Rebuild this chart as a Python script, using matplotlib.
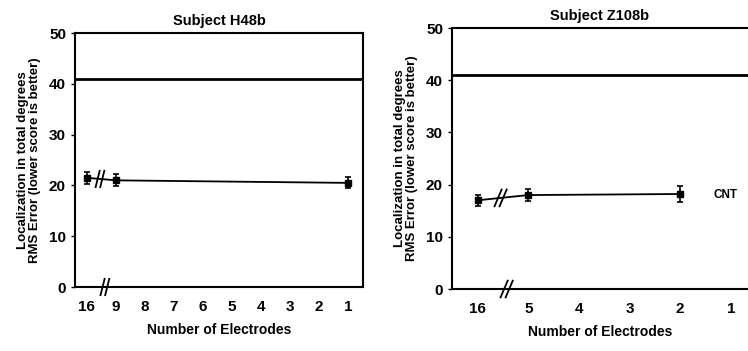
import numpy as np
import matplotlib
matplotlib.use('Agg')
import matplotlib.pyplot as plt

plt.rcParams['font.family'] = ['Liberation Sans', 'DejaVu Sans']
plt.rcParams['font.weight'] = 'bold'

# Subject H48b
h48_labels = ['16', '9', '8', '7', '6', '5', '4', '3', '2', '1']
h48_points = ['16', '9', '1']
h48_values = [21.5, 21.0, 20.5]
h48_errors = [1.2, 1.2, 1.1]

# Subject Z108b
z108_labels = ['16', '5', '4', '3', '2', '1']
z108_points = ['16', '5', '2']
z108_values = [17.0, 18.0, 18.2]
z108_errors = [1.1, 1.2, 1.5]

chance_level = 41


def draw_break(ax, xpos, ypos, dx=0.07, dy=1.6, gap=0.13):
    for off in (-gap / 2, gap / 2):
        ax.plot([xpos + off - dx, xpos + off + dx], [ypos - dy, ypos + dy],
                color='black', lw=1.3, clip_on=False, zorder=5)


def panel(ax, labels, points, values, errors, title, xlim, break_x, axis_break_x, gap):
    pos = [labels.index(p) for p in points]
    ax.plot(pos, values, color='black', lw=1.3)
    ax.errorbar(pos, values, yerr=errors, fmt='s', color='black', ms=5,
                elinewidth=1.2, capsize=2.5, capthick=1.2)
    ax.axhline(chance_level, color='black', lw=2)
    ax.set_xlim(*xlim)
    ax.set_ylim(0, 50)
    ax.set_xticks(range(len(labels)))
    ax.set_xticklabels(labels)
    ax.set_yticks([0, 10, 20, 30, 40, 50])
    ax.tick_params(axis='x', length=0, pad=9, labelsize=11)
    ax.tick_params(axis='y', length=3, width=1, labelsize=11)
    for s in ax.spines.values():
        s.set_linewidth(1.5)
    ax.set_title(title, fontsize=10.5, fontweight='bold', pad=6)
    ax.set_xlabel('Number of Electrodes', fontsize=10, fontweight='bold', labelpad=7)
    ax.set_ylabel('Localization in total degrees\nRMS Error (lower score is better)',
                  fontsize=9.5, fontweight='bold', labelpad=6, linespacing=1.0)
    # break marks on the data line and on the x axis
    yb = np.interp(break_x, pos, values)
    draw_break(ax, break_x, yb, gap=gap)
    draw_break(ax, axis_break_x, 0, gap=gap)


fig = plt.figure(figsize=(7.48, 3.51), dpi=100)
ax1 = fig.add_axes([0.1003, 0.1823, 0.385, 0.7236])
ax2 = fig.add_axes([0.6043, 0.1766, 0.3957, 0.7436])

panel(ax1, h48_labels, h48_points, h48_values, h48_errors,
      'Subject H48b', (-0.41, 9.52), 0.45, 0.62, 0.16)
panel(ax2, z108_labels, z108_points, z108_values, z108_errors,
      'Subject Z108b', (-0.51, 5.34), 0.45, 0.57, 0.1)
ax2.spines['right'].set_visible(False)
ax2.text(4.9, 18, 'CNT', fontsize=8.5, fontweight='bold', va='center', ha='center')

fig.savefig('out.png', dpi=100)
